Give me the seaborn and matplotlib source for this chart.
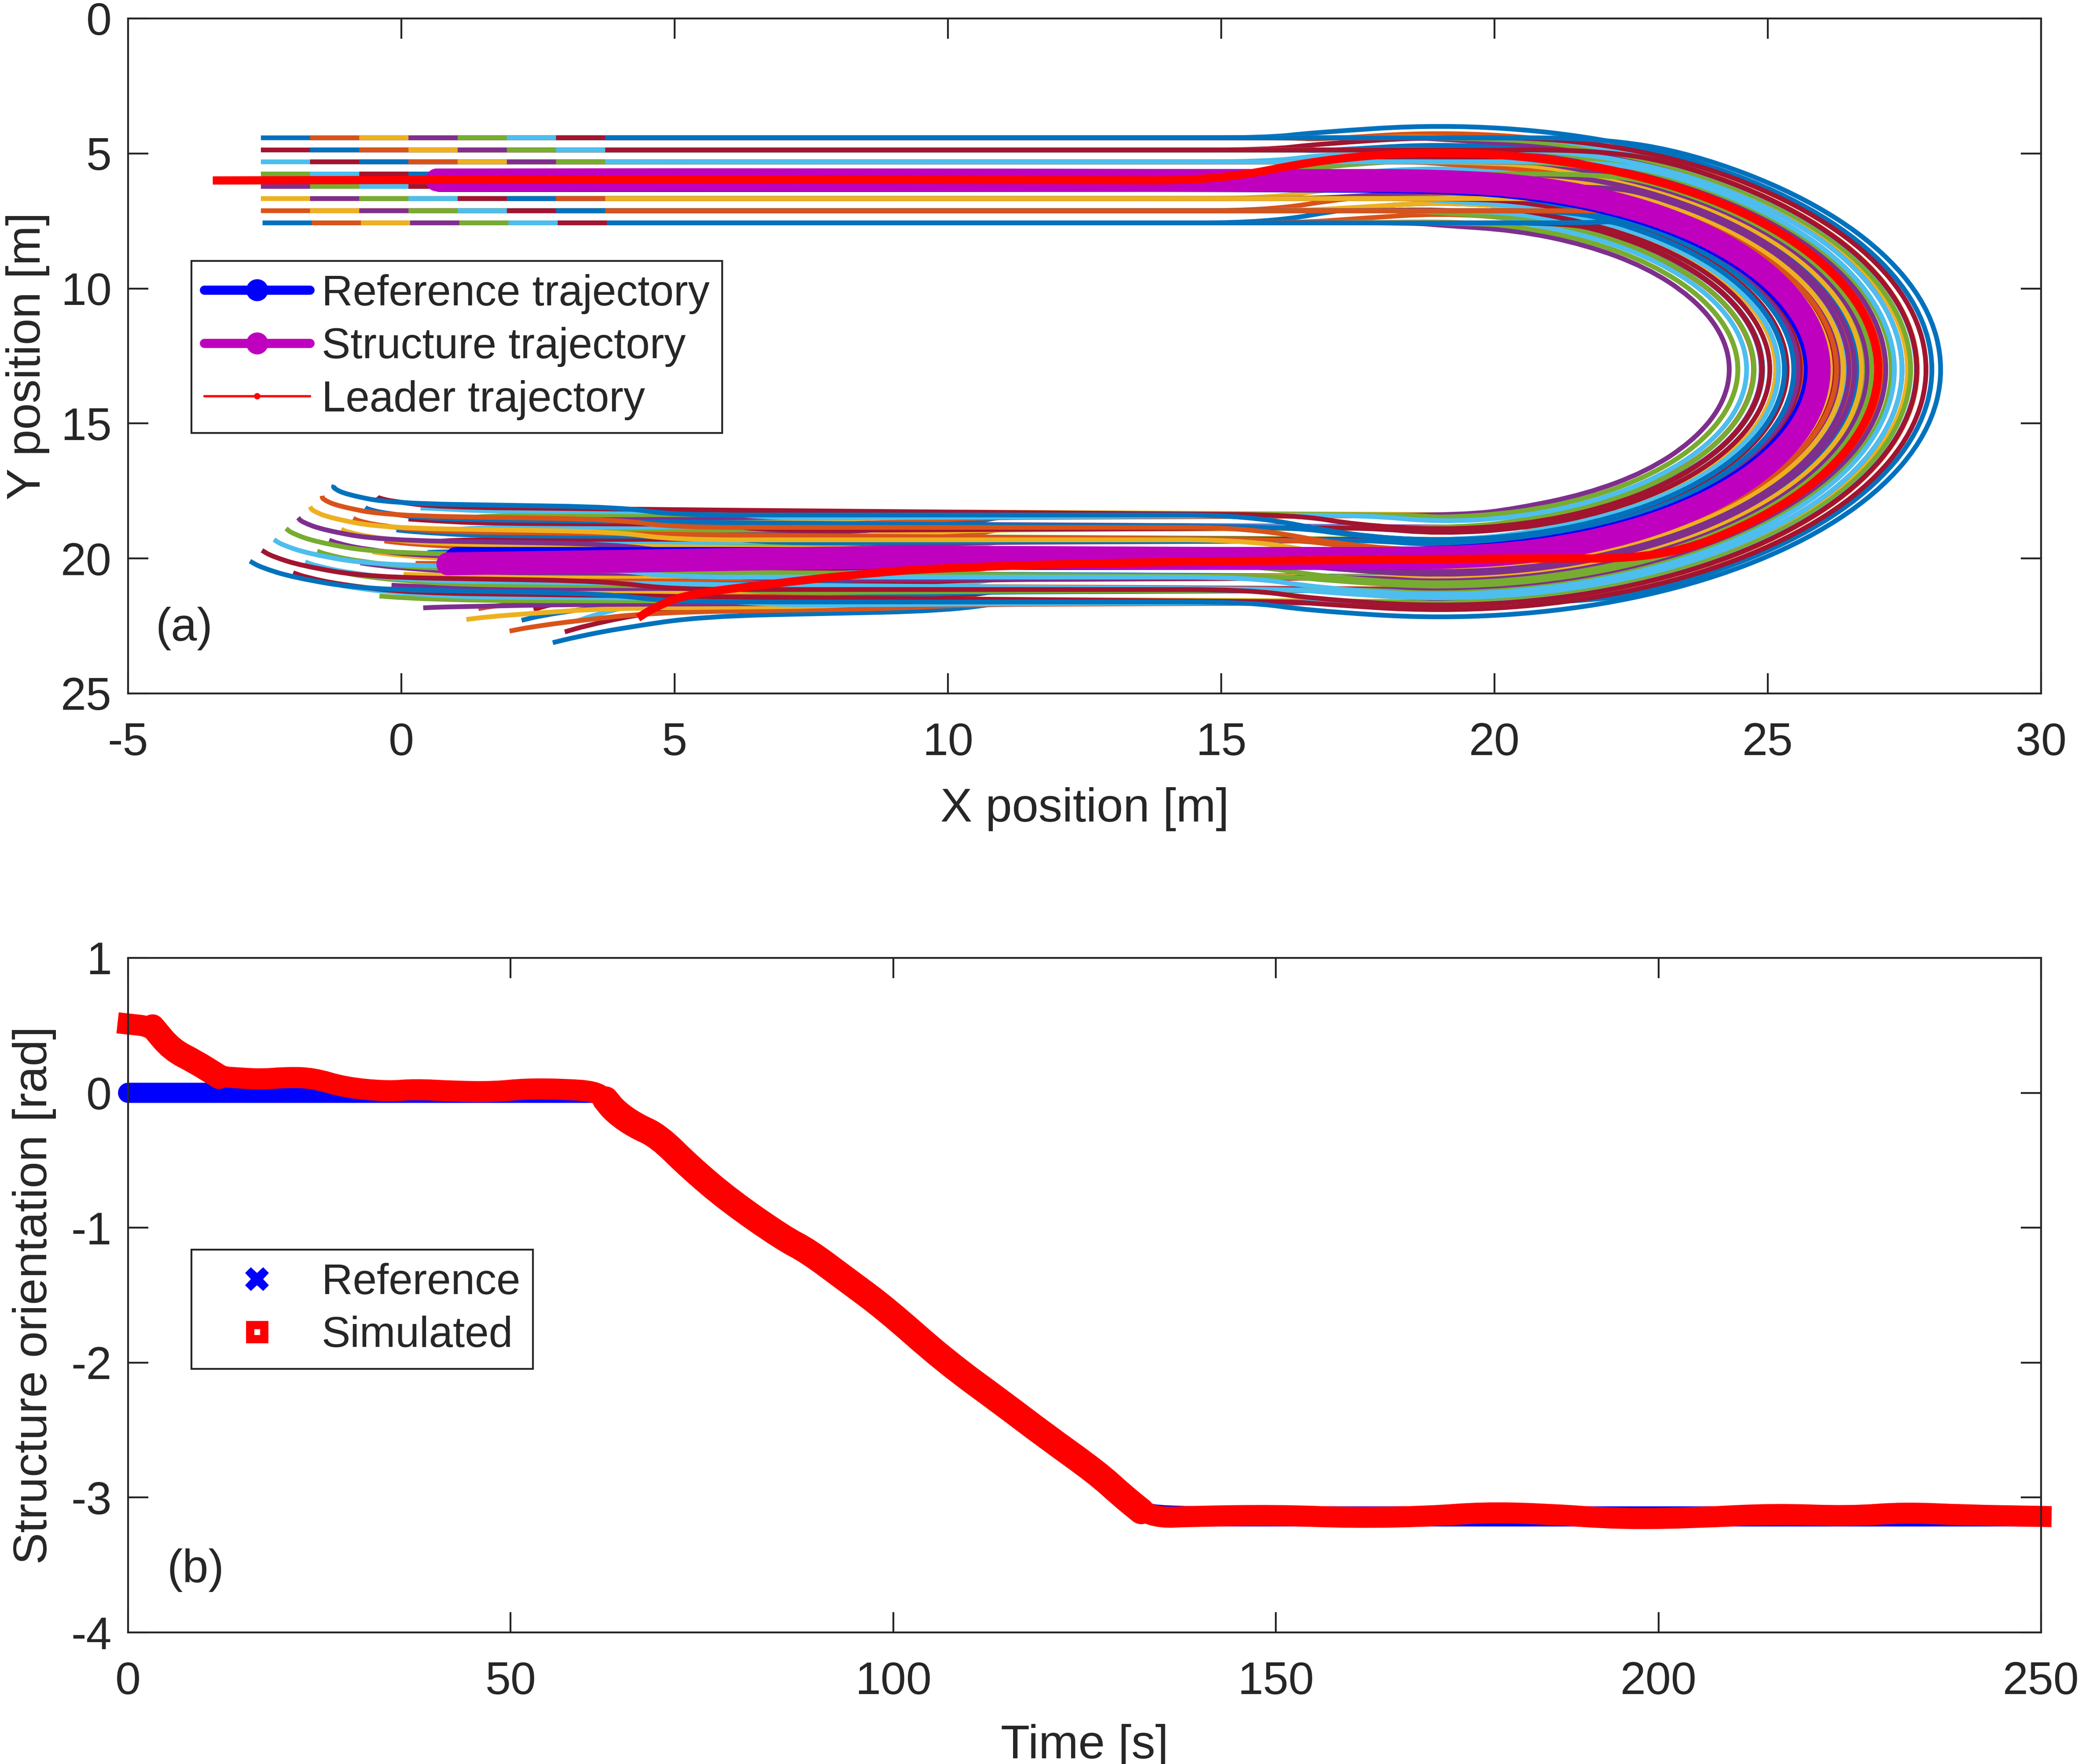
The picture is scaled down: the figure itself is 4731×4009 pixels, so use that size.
import matplotlib
matplotlib.use('Agg')
import matplotlib.pyplot as plt
from matplotlib.lines import Line2D
from matplotlib.patches import PathPatch
from matplotlib.path import Path
import numpy as np
import seaborn as sns

# robot trajectories: one list per robot, from the bottom-left end
# round the U-turn to the top-left end. rowN = track N counted from the top, 8 robots each
row0_x = [
    [2.77,3.19,4.05,5.52,9.97,11.25,21.9,23.54,25.42,26.86,27.77,28.08,27.77,26.86,25.42,23.54,21.35,19,16.65,15.85,-2.57],
    [1.98,2.36,3.19,4.63,9.08,10.35,21.0,23.41,25.23,26.63,27.51,27.81,27.51,26.63,25.23,23.41,21.28,19,16.72,16.4,-1.67],
    [1.19,1.54,2.33,3.74,8.18,9.45,20.35,21.24,23.32,25.10,26.47,27.34,27.63,27.34,26.47,25.10,23.32,21.24,19,17.65,-0.77],
    [0.40,0.72,1.47,2.85,7.29,8.55,19.45,21.21,23.27,25.03,26.39,27.24,27.53,27.24,26.39,25.03,23.27,21.21,19,18.55,0.13],
    [-0.40,-0.10,0.61,1.97,6.39,7.65,18.55,19,21.25,23.35,25.14,26.53,27.39,27.69,27.39,26.53,25.14,23.35,21.25,19.45,1.03],
    [-1.19,-0.92,-0.25,1.08,5.50,6.75,17.65,19,21.28,23.40,25.21,26.61,27.49,27.79,27.49,26.61,25.21,23.40,21.28,20.35,1.93],
    [-1.98,-1.74,-1.11,0.19,4.60,5.85,16.4,16.68,19,21.32,23.49,25.34,26.77,27.67,27.97,27.67,26.77,25.34,23.49,21.25,2.83],
    [-2.77,-2.57,-1.97,-0.70,3.71,4.95,15.5,16.61,19,21.39,23.62,25.53,27.0,27.93,28.24,27.93,27.0,25.53,23.62,21.9,3.73],
]
row0_y = [
    [23.12,22.91,22.57,22.14,21.94,21.56,21.61,20.86,19.42,17.54,15.35,13,10.65,8.46,6.58,5.14,4.23,3.92,4.23,4.42,4.42],
    [22.69,22.54,22.31,22.0,21.85,21.71,21.61,20.63,19.23,17.41,15.28,13,10.72,8.59,6.77,5.37,4.49,4.19,4.49,4.42,4.42],
    [22.26,22.17,22.04,21.85,21.76,21.49,21.61,21.34,20.47,19.10,17.32,15.24,13,10.76,8.68,6.90,5.53,4.66,4.37,4.42,4.42],
    [21.83,21.80,21.77,21.71,21.67,21.69,21.61,21.24,20.39,19.03,17.27,15.21,13,10.79,8.73,6.97,5.61,4.76,4.47,4.42,4.42],
    [21.39,21.44,21.51,21.57,21.57,21.51,21.61,21.69,21.39,20.53,19.14,17.35,15.25,13,10.75,8.65,6.86,5.47,4.61,4.42,4.42],
    [20.96,21.07,21.24,21.43,21.48,21.73,21.61,21.79,21.49,20.61,19.21,17.40,15.28,13,10.72,8.60,6.79,5.39,4.51,4.42,4.42],
    [20.53,20.70,20.97,21.28,21.39,21.43,21.61,21.67,21.97,21.67,20.77,19.34,17.49,15.32,13,10.68,8.51,6.66,5.23,4.42,4.42],
    [20.10,20.33,20.71,21.14,21.30,21.61,21.61,21.93,22.24,21.93,21.0,19.53,17.62,15.39,13,10.61,8.38,6.47,5.0,4.42,4.42],
]
row1_x = [
    [2.99,3.38,4.19,5.60,10.01,11.25,21.9,23.32,25.11,26.48,27.35,27.64,27.35,26.48,25.11,23.32,21.24,19,16.76,15.85,-2.57],
    [2.20,2.55,3.33,4.71,9.12,10.35,21.0,23.19,24.92,26.25,27.09,27.37,27.09,26.25,24.92,23.19,21.17,19,16.83,16.4,-1.67],
    [1.41,1.73,2.47,3.82,8.22,9.45,20.35,21.12,23.09,24.78,26.08,26.89,27.17,26.89,26.08,24.78,23.09,21.12,19,17.65,-0.77],
    [0.62,0.91,1.61,2.93,7.33,8.55,19.45,21.09,23.04,24.71,25.99,26.80,27.07,26.80,25.99,24.71,23.04,21.09,19,18.55,0.13],
    [-0.18,0.09,0.75,2.05,6.43,7.65,18.55,19,21.13,23.12,24.82,26.13,26.95,27.23,26.95,26.13,24.82,23.12,21.13,19.45,1.03],
    [-0.97,-0.73,-0.11,1.16,5.54,6.75,17.65,19,21.16,23.17,24.89,26.21,27.05,27.33,27.05,26.21,24.89,23.17,21.16,20.35,1.93],
    [-1.76,-1.55,-0.97,0.27,4.64,5.85,16.4,16.79,19,21.21,23.27,25.03,26.39,27.24,27.53,27.24,26.39,25.03,23.27,21.25,2.83],
    [-2.55,-2.38,-1.83,-0.62,3.75,4.95,15.5,16.72,19,21.28,23.40,25.22,26.62,27.50,27.80,27.50,26.62,25.22,23.40,21.9,3.73],
]
row1_y = [
    [22.72,22.49,22.13,21.69,21.48,21.10,21.15,20.48,19.11,17.32,15.24,13,10.76,8.68,6.89,5.52,4.65,4.36,4.65,4.87,4.87],
    [22.29,22.12,21.87,21.55,21.39,21.25,21.15,20.25,18.92,17.19,15.17,13,10.83,8.81,7.08,5.75,4.91,4.63,4.91,4.87,4.87],
    [21.86,21.75,21.60,21.40,21.30,21.03,21.15,20.89,20.08,18.78,17.09,15.12,13,10.88,8.91,7.22,5.92,5.11,4.83,4.87,4.87],
    [21.43,21.38,21.33,21.26,21.21,21.23,21.15,20.80,19.99,18.71,17.04,15.09,13,10.91,8.96,7.29,6.01,5.20,4.93,4.87,4.87],
    [20.99,21.02,21.07,21.12,21.11,21.05,21.15,21.23,20.95,20.13,18.82,17.12,15.13,13,10.87,8.88,7.18,5.87,5.05,4.87,4.87],
    [20.56,20.65,20.80,20.98,21.02,21.27,21.15,21.33,21.05,20.21,18.89,17.17,15.16,13,10.84,8.83,7.11,5.79,4.95,4.87,4.87],
    [20.13,20.28,20.53,20.83,20.93,20.97,21.15,21.24,21.53,21.24,20.39,19.03,17.27,15.21,13,10.79,8.73,6.97,5.61,4.87,4.87],
    [19.70,19.91,20.27,20.69,20.84,21.15,21.15,21.50,21.80,21.50,20.62,19.22,17.40,15.28,13,10.72,8.60,6.78,5.38,4.87,4.87],
]
row2_x = [
    [3.21,3.57,4.33,5.67,10.06,11.25,21.9,23.12,24.82,26.13,26.95,27.23,26.95,26.13,24.82,23.12,21.13,19,16.87,15.85,-2.57],
    [2.42,2.74,3.47,4.78,9.17,10.35,21.0,22.97,24.61,25.87,26.66,26.93,26.66,25.87,24.61,22.97,21.05,19,16.95,16.4,-1.67],
    [1.63,1.92,2.61,3.89,8.27,9.45,20.35,21.0,22.87,24.47,25.69,26.47,26.73,26.47,25.69,24.47,22.87,21.0,19,17.65,-0.77],
    [0.84,1.10,1.75,3.0,7.38,8.55,19.45,20.97,22.81,24.39,25.60,26.36,26.62,26.36,25.60,24.39,22.81,20.97,19,18.55,0.13],
    [0.04,0.28,0.89,2.12,6.48,7.65,18.55,19,21.01,22.89,24.50,25.74,26.52,26.78,26.52,25.74,24.50,22.89,21.01,19.45,1.03],
    [-0.75,-0.54,0.03,1.23,5.59,6.75,17.65,19,21.04,22.95,24.58,25.83,26.62,26.89,26.62,25.83,24.58,22.95,21.04,20.35,1.93],
    [-1.54,-1.36,-0.83,0.34,4.69,5.85,16.4,16.90,19,21.10,23.05,24.72,26.01,26.81,27.09,26.81,26.01,24.72,23.05,21.25,2.83],
    [-2.33,-2.19,-1.69,-0.55,3.80,4.95,15.5,16.83,19,21.17,23.20,24.93,26.27,27.10,27.39,27.10,26.27,24.93,23.20,21.9,3.73],
]
row2_y = [
    [22.32,22.07,21.69,21.23,21.03,20.64,20.69,20.13,18.82,17.12,15.13,13,10.87,8.88,7.18,5.87,5.05,4.77,5.05,5.31,5.31],
    [21.89,21.70,21.43,21.09,20.94,20.79,20.69,19.87,18.61,16.97,15.05,13,10.95,9.03,7.39,6.13,5.34,5.07,5.34,5.31,5.31],
    [21.46,21.33,21.16,20.94,20.85,20.57,20.69,20.47,19.69,18.47,16.87,15.0,13,11.0,9.13,7.53,6.31,5.53,5.27,5.31,5.31],
    [21.03,20.96,20.89,20.80,20.76,20.77,20.69,20.36,19.60,18.39,16.81,14.97,13,11.03,9.19,7.61,6.40,5.64,5.38,5.31,5.31],
    [20.59,20.60,20.63,20.66,20.66,20.59,20.69,20.78,20.52,19.74,18.50,16.89,15.01,13,10.99,9.11,7.50,6.26,5.48,5.31,5.31],
    [20.16,20.23,20.36,20.52,20.57,20.81,20.69,20.89,20.62,19.83,18.58,16.95,15.04,13,10.96,9.05,7.42,6.17,5.38,5.31,5.31],
    [19.73,19.86,20.09,20.37,20.48,20.51,20.69,20.81,21.09,20.81,20.01,18.72,17.05,15.10,13,10.90,8.95,7.28,5.99,5.31,5.31],
    [19.30,19.49,19.83,20.23,20.39,20.69,20.69,21.10,21.39,21.10,20.27,18.93,17.20,15.17,13,10.83,8.80,7.07,5.73,5.31,5.31],
]
row3_x = [
    [3.43,3.76,4.46,5.74,10.11,11.25,21.9,22.91,24.52,25.76,26.54,26.81,26.54,25.76,24.52,22.91,21.02,19,16.98,15.85,-2.57],
    [2.64,2.93,3.60,4.85,9.22,10.35,21.0,22.75,24.30,25.49,26.24,26.49,26.24,25.49,24.30,22.75,20.94,19,17.06,16.4,-1.67],
    [1.85,2.11,2.74,3.96,8.32,9.45,20.35,20.89,22.64,24.15,25.30,26.03,26.28,26.03,25.30,24.15,22.64,20.89,19,17.65,-0.77],
    [1.06,1.29,1.88,3.07,7.43,8.55,19.45,20.85,22.58,24.06,25.20,25.92,26.16,25.92,25.20,24.06,22.58,20.85,19,18.55,0.13],
    [0.26,0.47,1.02,2.19,6.53,7.65,18.55,19,20.90,22.66,24.18,25.34,26.07,26.32,26.07,25.34,24.18,22.66,20.90,19.45,1.03],
    [-0.53,-0.35,0.16,1.30,5.64,6.75,17.65,19,20.93,22.72,24.26,25.44,26.19,26.44,26.19,25.44,24.26,22.72,20.93,20.35,1.93],
    [-1.32,-1.17,-0.70,0.41,4.74,5.85,16.4,17.02,19,20.98,22.83,24.41,25.62,26.39,26.65,26.39,25.62,24.41,22.83,21.25,2.83],
    [-2.11,-2.0,-1.56,-0.48,3.85,4.95,15.5,16.94,19,21.06,22.99,24.63,25.90,26.70,26.97,26.70,25.90,24.63,22.99,21.9,3.73],
]
row3_y = [
    [21.91,21.65,21.25,20.78,20.57,20.18,20.23,19.76,18.52,16.91,15.02,13,10.98,9.09,7.48,6.24,5.46,5.19,5.46,5.76,5.76],
    [21.48,21.28,20.99,20.64,20.48,20.33,20.23,19.49,18.30,16.75,14.94,13,11.06,9.25,7.70,6.51,5.76,5.51,5.76,5.76,5.76],
    [21.05,20.91,20.72,20.49,20.39,20.11,20.23,20.03,19.30,18.15,16.64,14.89,13,11.11,9.36,7.85,6.70,5.97,5.72,5.76,5.76],
    [20.62,20.54,20.45,20.35,20.30,20.31,20.23,19.92,19.20,18.06,16.58,14.85,13,11.15,9.42,7.94,6.80,6.08,5.84,5.76,5.76],
    [20.18,20.18,20.19,20.21,20.20,20.13,20.23,20.32,20.07,19.34,18.18,16.66,14.90,13,11.10,9.34,7.82,6.66,5.93,5.76,5.76],
    [19.75,19.81,19.92,20.07,20.11,20.35,20.23,20.44,20.19,19.44,18.26,16.72,14.93,13,11.07,9.28,7.74,6.56,5.81,5.76,5.76],
    [19.32,19.44,19.65,19.92,20.02,20.05,20.23,20.39,20.65,20.39,19.62,18.41,16.83,14.98,13,11.02,9.17,7.59,6.38,5.76,5.76],
    [18.89,19.07,19.39,19.78,19.93,20.23,20.23,20.70,20.97,20.70,19.90,18.63,16.99,15.06,13,10.94,9.01,7.37,6.10,5.76,5.76],
]
row4_x = [
    [3.65,3.94,4.60,5.82,10.15,11.25,21.9,22.70,24.22,25.40,26.14,26.39,26.14,25.40,24.22,22.70,20.91,19,17.09,15.85,-2.57],
    [2.86,3.11,3.74,4.93,9.26,10.35,21.0,22.53,23.98,25.11,25.81,26.05,25.81,25.11,23.98,22.53,20.83,19,17.17,16.4,-1.67],
    [2.07,2.29,2.88,4.04,8.36,9.45,20.35,20.77,22.42,23.83,24.91,25.60,25.83,25.60,24.91,23.83,22.42,20.77,19,17.65,-0.77],
    [1.28,1.47,2.02,3.15,7.47,8.55,19.45,20.74,22.35,23.74,24.80,25.47,25.70,25.47,24.80,23.74,22.35,20.74,19,18.55,0.13],
    [0.48,0.65,1.16,2.27,6.57,7.65,18.55,19,20.78,22.43,23.85,24.94,25.63,25.86,25.63,24.94,23.85,22.43,20.78,19.45,1.03],
    [-0.31,-0.17,0.30,1.38,5.68,6.75,17.65,19,20.81,22.50,23.94,25.05,25.75,25.99,25.75,25.05,23.94,22.50,20.81,20.35,1.93],
    [-1.10,-0.99,-0.56,0.49,4.78,5.85,16.4,17.13,19,20.87,22.61,24.10,25.24,25.96,26.21,25.96,25.24,24.10,22.61,21.25,2.83],
    [-1.89,-1.82,-1.42,-0.40,3.89,4.95,15.5,17.04,19,20.96,22.78,24.34,25.54,26.29,26.55,26.29,25.54,24.34,22.78,21.9,3.73],
]
row4_y = [
    [21.51,21.23,20.81,20.32,20.11,19.72,19.77,19.40,18.22,16.70,14.91,13,11.09,9.30,7.78,6.60,5.86,5.61,5.86,6.22,6.22],
    [21.08,20.86,20.55,20.18,20.02,19.87,19.77,19.11,17.98,16.53,14.83,13,11.17,9.47,8.02,6.89,6.19,5.95,6.19,6.22,6.22],
    [20.65,20.49,20.28,20.03,19.93,19.65,19.77,19.60,18.91,17.83,16.42,14.77,13,11.23,9.58,8.17,7.09,6.40,6.17,6.22,6.22],
    [20.22,20.12,20.01,19.89,19.84,19.85,19.77,19.47,18.80,17.74,16.35,14.74,13,11.26,9.65,8.26,7.20,6.53,6.30,6.22,6.22],
    [19.78,19.76,19.75,19.75,19.74,19.67,19.77,19.86,19.63,18.94,17.85,16.43,14.78,13,11.22,9.57,8.15,7.06,6.37,6.22,6.22],
    [19.35,19.39,19.48,19.61,19.65,19.89,19.77,19.99,19.75,19.05,17.94,16.50,14.81,13,11.19,9.50,8.06,6.95,6.25,6.22,6.22],
    [18.92,19.02,19.21,19.46,19.56,19.59,19.77,19.96,20.21,19.96,19.24,18.10,16.61,14.87,13,11.13,9.39,7.90,6.76,6.22,6.22],
    [18.49,18.65,18.95,19.32,19.47,19.77,19.77,20.29,20.55,20.29,19.54,18.34,16.78,14.96,13,11.04,9.22,7.66,6.46,6.22,6.22],
]
row5_x = [
    [3.87,4.13,4.73,5.89,10.20,11.25,21.9,22.49,23.93,25.04,25.74,25.98,25.74,25.04,23.93,22.49,20.81,19,17.19,15.85,-2.57],
    [3.08,3.30,3.87,5.0,9.31,10.35,21.0,22.31,23.68,24.73,25.39,25.62,25.39,24.73,23.68,22.31,20.71,19,17.29,16.4,-1.67],
    [2.29,2.48,3.01,4.11,8.41,9.45,20.35,20.65,22.19,23.50,24.52,25.15,25.37,25.15,24.52,23.50,22.19,20.65,19,17.65,-0.77],
    [1.50,1.66,2.15,3.22,7.52,8.55,19.45,20.62,22.13,23.42,24.41,25.04,25.25,25.04,24.41,23.42,22.13,20.62,19,18.55,0.13],
    [0.70,0.84,1.29,2.34,6.62,7.65,18.55,19,20.66,22.21,23.53,24.55,25.19,25.41,25.19,24.55,23.53,22.21,20.66,19.45,1.03],
    [-0.09,0.02,0.43,1.45,5.73,6.75,17.65,19,20.69,22.27,23.62,24.65,25.31,25.53,25.31,24.65,23.62,22.27,20.69,20.35,1.93],
    [-0.88,-0.80,-0.43,0.56,4.83,5.85,16.4,17.24,19,20.76,22.39,23.79,24.87,25.55,25.78,25.55,24.87,23.79,22.39,21.25,2.83],
    [-1.67,-1.63,-1.29,-0.33,3.94,4.95,15.5,17.15,19,20.85,22.57,24.05,25.18,25.90,26.14,25.90,25.18,24.05,22.57,21.9,3.73],
]
row5_y = [
    [21.10,20.81,20.37,19.87,19.65,19.26,19.31,19.04,17.93,16.49,14.81,13,11.19,9.51,8.07,6.96,6.26,6.02,6.26,6.67,6.67],
    [20.67,20.44,20.11,19.73,19.56,19.41,19.31,18.73,17.68,16.31,14.71,13,11.29,9.69,8.32,7.27,6.61,6.38,6.61,6.67,6.67],
    [20.24,20.07,19.84,19.58,19.47,19.19,19.31,19.15,18.52,17.50,16.19,14.65,13,11.35,9.81,8.50,7.48,6.85,6.63,6.67,6.67],
    [19.81,19.70,19.57,19.44,19.38,19.39,19.31,19.04,18.41,17.42,16.13,14.62,13,11.38,9.87,8.58,7.59,6.96,6.75,6.67,6.67],
    [19.37,19.34,19.31,19.30,19.28,19.21,19.31,19.41,19.19,18.55,17.53,16.21,14.66,13,11.34,9.79,8.47,7.45,6.81,6.67,6.67],
    [18.94,18.97,19.04,19.16,19.19,19.43,19.31,19.53,19.31,18.65,17.62,16.27,14.69,13,11.31,9.73,8.38,7.35,6.69,6.67,6.67],
    [18.51,18.60,18.77,19.01,19.10,19.13,19.31,19.55,19.78,19.55,18.87,17.79,16.39,14.76,13,11.24,9.61,8.21,7.13,6.67,6.67],
    [18.08,18.23,18.51,18.87,19.01,19.31,19.31,19.90,20.14,19.90,19.18,18.05,16.57,14.85,13,11.15,9.43,7.95,6.82,6.67,6.67],
]
row6_x = [
    [4.09,4.32,4.87,5.96,10.25,11.25,21.9,22.29,23.65,24.70,25.36,25.58,25.36,24.70,23.65,22.29,20.70,19,17.30,15.85,-2.57],
    [3.30,3.49,4.01,5.07,9.36,10.35,21.0,22.10,23.38,24.37,24.99,25.20,24.99,24.37,23.38,22.10,20.61,19,17.39,16.4,-1.67],
    [2.51,2.67,3.15,4.18,8.46,9.45,20.35,20.54,21.97,23.19,24.14,24.73,24.93,24.73,24.14,23.19,21.97,20.54,19,17.65,-0.77],
    [1.72,1.85,2.29,3.29,7.57,8.55,19.45,20.50,21.90,23.10,24.02,24.60,24.80,24.60,24.02,23.10,21.90,20.50,19,18.55,0.13],
    [0.92,1.03,1.43,2.41,6.67,7.65,18.55,19,20.54,21.98,23.21,24.16,24.76,24.96,24.76,24.16,23.21,21.98,20.54,19.45,1.03],
    [0.13,0.21,0.57,1.52,5.78,6.75,17.65,19,20.58,22.05,23.31,24.27,24.88,25.09,24.88,24.27,23.31,22.05,20.58,20.35,1.93],
    [-0.66,-0.61,-0.29,0.63,4.88,5.85,16.4,17.35,19,20.65,22.18,23.50,24.51,25.14,25.36,25.14,24.51,23.50,22.18,21.25,2.83],
    [-1.45,-1.44,-1.15,-0.26,3.99,4.95,15.5,17.25,19,20.75,22.37,23.77,24.84,25.51,25.74,25.51,24.84,23.77,22.37,21.9,3.73],
]
row6_y = [
    [20.70,20.39,19.93,19.41,19.20,18.80,18.85,18.70,17.65,16.29,14.70,13,11.30,9.71,8.35,7.30,6.64,6.42,6.64,7.12,7.12],
    [20.27,20.02,19.67,19.27,19.11,18.95,18.85,18.37,17.38,16.10,14.61,13,11.39,9.90,8.62,7.63,7.01,6.80,7.01,7.12,7.12],
    [19.84,19.65,19.40,19.12,19.02,18.73,18.85,18.73,18.14,17.19,15.97,14.54,13,11.46,10.03,8.81,7.86,7.27,7.07,7.12,7.12],
    [19.41,19.28,19.13,18.98,18.93,18.93,18.85,18.60,18.02,17.10,15.90,14.50,13,11.50,10.10,8.90,7.98,7.40,7.20,7.12,7.12],
    [18.97,18.92,18.87,18.84,18.83,18.75,18.85,18.96,18.76,18.16,17.21,15.98,14.54,13,11.46,10.02,8.79,7.84,7.24,7.12,7.12],
    [18.54,18.55,18.60,18.70,18.74,18.97,18.85,19.09,18.88,18.27,17.31,16.05,14.58,13,11.42,9.95,8.69,7.73,7.12,7.12,7.12],
    [18.11,18.18,18.33,18.55,18.65,18.67,18.85,19.14,19.36,19.14,18.51,17.50,16.18,14.65,13,11.35,9.82,8.50,7.49,7.12,7.12],
    [17.68,17.81,18.07,18.41,18.56,18.85,18.85,19.51,19.74,19.51,18.84,17.77,16.37,14.75,13,11.25,9.63,8.23,7.16,7.12,7.12],
]
row7_x = [
    [4.31,4.51,5.01,6.04,10.29,11.25,21.9,22.10,23.38,24.37,24.99,25.20,24.99,24.37,23.38,22.10,20.61,19,17.39,15.85,-2.54],
    [3.52,3.68,4.15,5.15,9.40,10.35,21.0,21.90,23.09,24.01,24.59,24.79,24.59,24.01,23.09,21.90,20.50,19,17.50,16.4,-1.64],
    [2.73,2.86,3.29,4.26,8.50,9.45,20.35,20.42,21.75,22.89,23.76,24.31,24.50,24.31,23.76,22.89,21.75,20.42,19,17.65,-0.74],
    [1.94,2.04,2.43,3.37,7.61,8.55,19.45,20.38,21.67,22.78,23.62,24.16,24.34,24.16,23.62,22.78,21.67,20.38,19,18.55,0.16],
    [1.14,1.22,1.57,2.49,6.71,7.65,18.55,19,20.42,21.75,22.89,23.76,24.31,24.50,24.31,23.76,22.89,21.75,20.42,19.45,1.06],
    [0.35,0.40,0.71,1.60,5.82,6.75,17.65,19,20.47,21.83,23.0,23.90,24.47,24.66,24.47,23.90,23.0,21.83,20.47,20.35,1.96],
    [-0.44,-0.42,-0.15,0.71,4.92,5.85,16.4,17.46,19,20.54,21.98,23.21,24.15,24.75,24.95,24.75,24.15,23.21,21.98,21.25,2.86],
    [-1.23,-1.25,-1.01,-0.18,4.03,4.95,15.5,17.35,19,20.65,22.18,23.50,24.51,25.14,25.36,25.14,24.51,23.50,22.18,21.9,3.76],
]
row7_y = [
    [20.30,19.97,19.49,18.96,18.74,18.34,18.39,18.37,17.38,16.10,14.61,13,11.39,9.90,8.62,7.63,7.01,6.80,7.01,7.57,7.57],
    [19.87,19.60,19.23,18.82,18.65,18.49,18.39,18.01,17.09,15.90,14.50,13,11.50,10.10,8.91,7.99,7.41,7.21,7.41,7.57,7.57],
    [19.44,19.23,18.96,18.67,18.56,18.27,18.39,18.31,17.76,16.89,15.75,14.42,13,11.58,10.25,9.11,8.24,7.69,7.50,7.57,7.57],
    [19.01,18.86,18.69,18.53,18.47,18.47,18.39,18.16,17.62,16.78,15.67,14.38,13,11.62,10.33,9.22,8.38,7.84,7.66,7.57,7.57],
    [18.57,18.50,18.43,18.39,18.37,18.29,18.39,18.50,18.31,17.76,16.89,15.75,14.42,13,11.58,10.25,9.11,8.24,7.69,7.57,7.57],
    [18.14,18.13,18.16,18.25,18.28,18.51,18.39,18.66,18.47,17.90,17.0,15.83,14.47,13,11.53,10.17,9.0,8.10,7.53,7.57,7.57],
    [17.71,17.76,17.89,18.10,18.19,18.21,18.39,18.75,18.95,18.75,18.15,17.21,15.98,14.54,13,11.46,10.02,8.79,7.85,7.57,7.57],
    [17.28,17.39,17.63,17.96,18.10,18.39,18.39,19.14,19.36,19.14,18.51,17.50,16.18,14.65,13,11.35,9.82,8.50,7.49,7.57,7.57],
]

ref_x = [1.0,4,8,12,15,19,20.79,22.47,23.9,25.0,25.69,25.93,25.69,25.0,23.9,22.47,20.79,19,15,10,5,0.7]
ref_y = [20.0,20.0,20.0,20.0,20.0,20.0,19.69,19.0,17.9,16.47,14.79,13,11.21,9.53,8.1,7.0,6.31,6.05,6.0,6.0,6.0,6.0]
struct_x = [0.85,2.5,4.3,7,10,15,19,20.81,22.5,23.95,25.06,25.76,26.0,25.76,25.06,23.95,22.5,20.81,19,15,10,5,0.65]
struct_y = [20.2,20.15,20.1,20.0,19.95,20.0,20.0,19.76,19.06,17.95,16.5,14.81,13,11.19,9.5,8.05,6.94,6.24,6.0,6.0,5.98,5.97,5.98]
leader_x = [4.33,4.6,5.16,6.7,8.76,10,12.15,15,18,20,23.05,24.72,26.0,26.81,27.09,26.81,26.0,24.72,23.05,21.1,19,16.9,14.95,10,5,0,-3.45]
leader_y = [22.2,21.85,21.35,20.95,20.5,20.35,20.2,20.1,20.05,20.0,20.0,18.72,17.05,15.1,13,10.9,8.95,7.28,6.0,5.19,4.91,5.19,6.0,5.98,5.97,5.98,6.0]

time_ref = [0,60,61.1,62.4,63.7,66.2,69.3,73.4,78.6,85.7,88.8,94,99,106.8,114.5,119.6,126.7,129.8,132.4,134.9,250]
orient_ref = [0,0,0,-0.05,-0.14,-0.24,-0.32,-0.55,-0.80,-1.08,-1.17,-1.39,-1.60,-1.99,-2.31,-2.53,-2.82,-2.98,-3.10,-3.14,-3.14]
time_sim = [0,3.2,5.7,8.8,11.9,14.5,17.5,20.6,24.2,28.3,33.9,37.5,42.7,47.8,51.9,57.1,61.1,62.4,63.7,66.2,69.3,73.4,78.6,85.7,
            88.8,94,99,106.8,114.5,119.6,126.7,129.8,132.4,134.9,138.5,150,160,170,177,185,195,205,215,225,232,240,250]
orient_sim = [0.51,0.49,0.32,0.23,0.12,0.11,0.10,0.115,0.11,0.04,0.01,0.027,0.011,0.007,0.03,0.027,0.01,-0.05,-0.14,-0.24,-0.32,-0.55,-0.80,-1.08,
              -1.17,-1.39,-1.60,-1.99,-2.31,-2.53,-2.82,-2.98,-3.10,-3.15,-3.14,-3.13,-3.15,-3.14,-3.11,-3.12,-3.16,-3.15,-3.12,-3.14,-3.11,-3.13,-3.14]

matlab_colors = ['#0072BD', '#D95319', '#EDB120', '#7E2F8E', '#77AC30', '#4DBEEE', '#A2142F']
ink = '#262626'

sns.set_style('white')
plt.rcParams['font.family'] = ['Liberation Sans', 'DejaVu Sans']
plt.rcParams['text.color'] = ink
plt.rcParams['axes.labelcolor'] = ink
plt.rcParams['axes.unicode_minus'] = False

fig = plt.figure(figsize=(4731 / 300, 4009 / 300), dpi=300)
ax_a = fig.add_axes([291 / 4731, 1 - 1576 / 4009, 4347 / 4731, 1534 / 4009])
ax_b = fig.add_axes([291 / 4731, 1 - 3710 / 4009, 4347 / 4731, 1533 / 4009])

rows_x = [row0_x, row1_x, row2_x, row3_x, row4_x, row5_x, row6_x, row7_x]
rows_y = [row0_y, row1_y, row2_y, row3_y, row4_y, row5_y, row6_y, row7_y]

def line(ax, x, y, color, lw, cap='round', clip=True):
    sns.lineplot(x=x, y=y, color=color, lw=lw, sort=False, estimator=None, errorbar=None,
                 legend=False, ax=ax, solid_capstyle=cap, solid_joinstyle='round', clip_on=clip)

def round_corners(ax, cap_px=150):
    # same vertices, but the corners are drawn as curves instead of kinks
    for ln in list(ax.lines):
        xy = ln.get_xydata()
        px = ax.transData.transform(xy)
        verts = [xy[0]]
        codes = [Path.MOVETO]
        for i in range(1, len(xy) - 1):
            d0 = np.hypot(*(px[i] - px[i - 1]))
            d1 = np.hypot(*(px[i + 1] - px[i]))
            f0 = min(0.5, cap_px / max(d0, 1e-6))
            f1 = min(0.5, cap_px / max(d1, 1e-6))
            verts += [xy[i] + (xy[i - 1] - xy[i]) * f0, xy[i], xy[i] + (xy[i + 1] - xy[i]) * f1]
            codes += [Path.LINETO, Path.CURVE3, Path.CURVE3]
        verts.append(xy[-1])
        codes.append(Path.LINETO)
        ax.add_patch(PathPatch(Path(verts, codes), fc='none', ec=ln.get_color(), lw=ln.get_linewidth(),
                               capstyle=ln.get_solid_capstyle(), joinstyle='round',
                               clip_on=ln.get_clip_on(), zorder=ln.get_zorder()))
        ln.remove()

# colours cycle column by column, bottom row first, same as plot order in the source figure
for c in range(8):
    for r in range(7, -1, -1):
        line(ax_a, rows_x[r][c], rows_y[r][c], matlab_colors[(c + 7 - r) % 7], 2.6, cap='butt')

line(ax_a, ref_x, ref_y, '#0000FF', 12.5)
line(ax_a, struct_x, struct_y, '#BF00BF', 12.5)
line(ax_a, leader_x, leader_y, '#FF0000', 4.5, cap='butt')

line(ax_b, time_ref, orient_ref, '#0000FF', 11, clip=False)
line(ax_b, time_sim, orient_sim, '#FF0000', 11.5, cap='projecting', clip=False)
# the square markers of the original look heavier where the curve falls
line(ax_b, time_sim[1:5], orient_sim[1:5], '#FF0000', 13.5, clip=False)
line(ax_b, time_sim[17:33], orient_sim[17:33], '#FF0000', 14.4, clip=False)

ax_a.set_xlim(-5, 30)
ax_a.set_ylim(25, 0)
ax_a.set_xticks(range(-5, 31, 5))
ax_a.set_yticks(range(0, 26, 5))
ax_b.set_xlim(0, 250)
ax_b.set_ylim(-4, 1)
ax_b.set_xticks(range(0, 251, 50))
ax_b.set_yticks(range(-4, 2))

round_corners(ax_a)
round_corners(ax_b)

ax_a.set_xlabel('X position [m]', fontsize=26)
ax_a.set_ylabel('Y position [m]', fontsize=26)
ax_b.set_xlabel('Time [s]', fontsize=26)
ax_b.set_ylabel('Structure orientation [rad]', fontsize=26)
ax_a.xaxis.set_label_coords(0.5, -0.139)
ax_a.yaxis.set_label_coords(-0.041, 0.5)
ax_b.xaxis.set_label_coords(0.5, -0.136)
ax_b.yaxis.set_label_coords(-0.0375, 0.5)

for ax in (ax_a, ax_b):
    ax.tick_params(direction='in', length=11, width=1, color=ink, labelcolor=ink, labelsize=25,
                   top=True, right=True, bottom=True, left=True, pad=9)
    ax.tick_params(axis='x', pad=15.5)
    for s in ax.spines.values():
        s.set_visible(True)
        s.set_linewidth(1)
        s.set_color(ink)

ax_a.text(-4.5, 22.6, '(a)', fontsize=25.5, va='center', ha='left')
ax_b.text(5.1, -3.54, '(b)', fontsize=25.5, va='center', ha='left')

handles_a = [
    Line2D([], [], color='#0000FF', lw=5, marker='o', ms=11),
    Line2D([], [], color='#BF00BF', lw=5, marker='o', ms=11),
    Line2D([], [], color='#FF0000', lw=1.3, marker='o', ms=2.5),
]
leg_a = ax_a.legend(handles_a, ['Reference trajectory', 'Structure trajectory', 'Leader trajectory'],
                    loc='lower left', bbox_to_anchor=(0.0331, 0.386), borderaxespad=0, fontsize=23.5,
                    handlelength=2.45, handletextpad=0.27, labelspacing=0.3, borderpad=0.3,
                    fancybox=False, framealpha=1, edgecolor=ink, labelcolor=ink)
leg_a.get_frame().set_linewidth(1)

handles_b = [
    Line2D([], [], color='none', marker='X', ms=13, mfc='#0000FF', mec='#0000FF', mew=0),
    Line2D([], [], color='none', marker='s', ms=7.5, mfc='white', mec='#FF0000', mew=4.5),
]
leg_b = ax_b.legend(handles_b, ['Reference', 'Simulated'],
                    loc='lower left', bbox_to_anchor=(0.0331, 0.391), borderaxespad=0, fontsize=23.5,
                    handlelength=2.45, handletextpad=0.27, labelspacing=0.3, borderpad=0.3,
                    fancybox=False, framealpha=1, edgecolor=ink, labelcolor=ink)
leg_b.get_frame().set_linewidth(1)

fig.savefig('out.png', dpi=300, facecolor='white')
